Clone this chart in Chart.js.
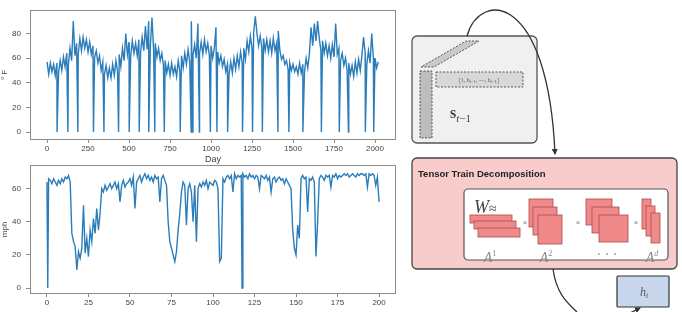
<!DOCTYPE html>
<html>
<head>
<meta charset="utf-8">
<script src="https://cdn.jsdelivr.net/npm/chart.js@4.4.1/dist/chart.umd.min.js"></script>
<style>
body { margin: 0; background: #fff; width: 682px; height: 312px; overflow: hidden; position: relative; }
#temp { position: absolute; left: 0; top: 0; }
#speed { position: absolute; left: 0; top: 155px; }
svg { position: absolute; left: 0; top: 0; }
</style>
</head>
<body>
<canvas id="temp" width="400" height="165"></canvas>
<canvas id="speed" width="400" height="157"></canvas>

<svg width="682" height="312" viewBox="0 0 682 312">
  <defs>
    <marker id="tip" markerWidth="6" markerHeight="6" refX="5" refY="3" orient="auto" markerUnits="userSpaceOnUse">
      <path d="M0,0 L6,3 L0,6 z" fill="#333"/>
    </marker>
  </defs>
  <!-- state box -->
  <rect x="412" y="36" width="125" height="107" rx="5" fill="#f0f0f0" stroke="#555" stroke-width="1.3"/>
  <polygon points="421,67 434,67 479,41 466,41" fill="#c9c9c9" stroke="#333" stroke-width="0.8" stroke-dasharray="2,1.5"/>
  <rect x="420" y="71" width="12" height="67" fill="#bdbdbd" stroke="#333" stroke-width="0.8" stroke-dasharray="2,1.5"/>
  <rect x="436" y="72" width="87" height="15" fill="#d8d8d8" stroke="#333" stroke-width="0.8" stroke-dasharray="2,1.5"/>
  <text x="479" y="82" font-family="Liberation Serif" font-size="6" fill="#666" text-anchor="middle">[1, h<tspan font-size="4.5" dy="1">t−1</tspan><tspan dy="-1">, ⋯, h</tspan><tspan font-size="4.5" dy="1">t−L</tspan><tspan dy="-1">]</tspan></text>
  <text x="450" y="118" font-family="Liberation Serif" font-weight="bold" font-size="16" fill="#444">s<tspan font-weight="normal" font-style="italic" font-size="11" dy="4">t</tspan><tspan font-weight="normal" font-size="11">−1</tspan></text>
  <path d="M467,36 C480,-10 548,-8 555,154" fill="none" stroke="#333" stroke-width="1.3" marker-end="url(#tip)"/>

  <!-- tensor train box -->
  <rect x="412" y="158" width="265" height="111" rx="5" fill="#f9cccc" stroke="#444" stroke-width="1.3"/>
  <text x="418" y="177" font-family="Liberation Sans" font-weight="bold" font-size="9.5" fill="#222">Tensor Train Decomposition</text>
  <rect x="464" y="189" width="204" height="71" rx="4" fill="#fff" stroke="#555" stroke-width="1.2"/>
  <text x="474" y="213" font-family="Liberation Serif" font-style="italic" font-size="18" fill="#444">W<tspan font-style="normal" font-size="14">≈</tspan></text>
  <g fill="#f08a8a" stroke="#b04848" stroke-width="0.8">
    <rect x="470" y="215" width="42" height="8"/>
    <rect x="474" y="221" width="42" height="8"/>
    <rect x="478" y="228" width="42" height="9"/>
    <rect x="529" y="199" width="24" height="28"/>
    <rect x="533" y="207" width="24" height="28"/>
    <rect x="538" y="215" width="24" height="29"/>
    <rect x="586" y="199" width="26" height="26"/>
    <rect x="592" y="207" width="27" height="26"/>
    <rect x="599" y="215" width="29" height="27"/>
    <rect x="642" y="199" width="9" height="30"/>
    <rect x="646" y="206" width="9" height="30"/>
    <rect x="651" y="213" width="9" height="30"/>
  </g>
  <g font-family="Liberation Sans" font-size="8" fill="#777" text-anchor="middle">
    <text x="525" y="225">×</text>
    <text x="578" y="225">×</text>
    <text x="636" y="225">×</text>
  </g>
  <g font-family="Liberation Serif" font-style="italic" font-size="14" fill="#888" text-anchor="middle">
    <text x="490" y="262">A<tspan font-size="8" dy="-6" font-style="normal">1</tspan></text>
    <text x="546" y="262">A<tspan font-size="8" dy="-6" font-style="normal">2</tspan></text>
    <text x="607" y="259" font-style="normal">· · ·</text>
    <text x="652" y="262">A<tspan font-size="8" dy="-6">d</tspan></text>
  </g>
  <path d="M553,269 C556,292 566,302 577,312" fill="none" stroke="#333" stroke-width="1.3"/>

  <!-- output box -->
  <rect x="617" y="276" width="52" height="31" rx="1" fill="#c9d7ec" stroke="#333" stroke-width="1.2"/>
  <text x="640" y="296" font-family="Liberation Serif" font-style="italic" font-size="12" fill="#556">h<tspan font-size="8" dy="2">t</tspan></text>
  <path d="M628,314 L640,308" fill="none" stroke="#333" stroke-width="1.3" marker-end="url(#tip)"/>
</svg>

<script>
// temperature, one reading every 10 days from day 0
var tempValues = [
  57, 47, 56, 49, 55, 46, 56, 48, 58, 50,
  61, 53, 64, 55, 68, 58, 90, 62, 72, 63,
  76, 66, 77, 68, 75, 65, 73, 63, 70, 61,
  66, 56, 62, 50, 57, 47, 54, 44, 52, 44,
  55, 46, 58, 49, 63, 53, 68, 58, 80, 63,
  73, 62, 74, 64, 72, 62, 75, 64, 77, 66,
  86, 67, 90, 70, 93, 66, 72, 61, 68, 58,
  64, 54, 58, 48, 55, 46, 56, 47, 53, 45,
  58, 49, 62, 52, 64, 55, 67, 57, 90, 62,
  71, 60, 88, 64, 73, 63, 75, 65, 72, 62,
  70, 60, 68, 85, 65, 56, 62, 53, 59, 49,
  55, 47, 57, 48, 60, 51, 62, 53, 65, 56,
  68, 59, 74, 65, 78, 68, 81, 94, 80, 70,
  78, 68, 76, 66, 75, 65, 74, 64, 76, 66,
  72, 82, 66, 59, 62, 55, 58, 51, 56, 50,
  55, 49, 53, 47, 56, 48, 55, 49, 60, 52,
  64, 85, 70, 88, 74, 90, 76, 66, 74, 64,
  72, 62, 70, 60, 71, 61, 88, 63, 68, 58,
  64, 54, 60, 50, 56, 47, 54, 45, 57, 48,
  59, 50, 62, 77, 64, 55, 66, 56, 80, 60,
  60, 52, 57
];
// days where the sensor reads zero
var tempDropDays = [61, 127, 188, 283, 347, 436, 501, 562, 620, 657, 715, 812, 879, 889, 929,
  996, 1036, 1101, 1192, 1253, 1313, 1408, 1475, 1560, 1673, 1782, 1838, 1941, 1992];
var tempDropValues = [0, 0, 0, 0, 0, 0, 0, 0, 0, 0, 0, 0, 0, 0, 0,
  0, 0, 0, 0, 0, 0, 0, 0, 0, 0, 0, 0, 0, 0];
var tempXTicks = [0, 250, 500, 750, 1000, 1250, 1500, 1750, 2000];
var tempYTicks = [0, 20, 40, 60, 80];

// speed, one reading per day from day 0
var speedValues = [
  64, 66, 65, 63, 66, 64, 62, 65, 63, 66,
  64, 67, 66, 68, 64, 33, 28, 25, 11, 22,
  18, 24, 50, 21, 30, 19, 35, 28, 42, 33,
  48, 35, 45, 60, 58, 62, 59, 61, 63, 60,
  62, 64, 60, 63, 52, 62, 65, 61, 63, 64,
  66, 62, 67, 48, 64, 66, 68, 64, 67, 69,
  66, 68, 65, 67, 64, 68, 66, 67, 52, 66,
  68, 65, 62, 40, 28, 24, 20, 16, 22, 35,
  45, 58, 64, 62, 38, 60, 63, 58, 40, 62,
  28, 60, 63, 61, 64, 62, 65, 60, 64, 63,
  62, 65, 64, 60, 16, 18, 66, 64, 67, 68,
  66, 68, 58, 69, 66, 68, 67, 68, 69, 67,
  68, 66, 69, 67, 68, 66, 68, 67, 60, 68,
  67, 66, 68, 65, 67, 58, 66, 67, 64, 66,
  67, 65, 66, 63, 66, 64, 62, 60, 35, 24,
  20, 38, 30, 66, 68, 66, 67, 46, 66, 65,
  67, 64, 19, 40, 66, 68, 67, 65, 68, 67,
  68, 61, 68, 67, 69, 66, 68, 67, 68, 69,
  68, 69, 67, 68, 69, 68, 67, 69, 68, 69,
  69, 68, 69, 61, 69, 68, 69, 68, 62, 67,
  52
];
var speedDropDays = [0.5, 117.5];
var speedDropValues = [0, 0];
var speedXTicks = [0, 25, 50, 75, 100, 125, 150, 175, 200];
var speedYTicks = [0, 20, 40, 60];

function buildPoints(step, values, dropDays, dropValues) {
  var pts = values.map(function (v, i) { return { x: i * step, y: v }; });
  dropDays.forEach(function (d, i) { pts.push({ x: d, y: dropValues[i] }); });
  pts.sort(function (a, b) { return a.x - b.x; });
  return pts;
}

var frame = {
  id: 'frame',
  afterDatasetsDraw: function (chart) {
    var a = chart.chartArea, c = chart.ctx;
    c.save();
    c.strokeStyle = '#8c8c8c';
    c.lineWidth = 1;
    c.strokeRect(Math.round(a.left) + 0.5, Math.round(a.top) + 0.5,
      Math.round(a.right - a.left) - 1, Math.round(a.bottom - a.top) - 1);
    c.restore();
  }
};

var tickFont = { family: 'Liberation Sans', size: 8 };
var tickColor = '#444';

function makeChart(id, points, xr, yr, xTicks, yTicks, xTitle, yTitle, pad, xHeight) {
  return new Chart(document.getElementById(id).getContext('2d'), {
    type: 'line',
    data: {
      datasets: [{
        data: points,
        borderColor: '#2a7dba',
        borderWidth: 1.4,
        pointRadius: 0,
        tension: 0,
        fill: false
      }]
    },
    options: {
      responsive: false,
      animation: false,
      layout: { padding: pad },
      plugins: { legend: { display: false }, tooltip: { enabled: false } },
      scales: {
        x: {
          type: 'linear', min: xr[0], max: xr[1],
          afterBuildTicks: function (s) { s.ticks = xTicks.map(function (v) { return { value: v }; }); },
          afterFit: function (s) { s.height = xHeight; },
          grid: { drawOnChartArea: false, drawTicks: true, tickLength: 3, color: '#8c8c8c' },
          border: { display: false },
          ticks: { font: tickFont, color: tickColor, padding: 1, maxRotation: 0, autoSkip: false,
            callback: function (v) { return String(v); } },
          title: { display: !!xTitle, text: xTitle, font: { family: 'Liberation Sans', size: 9 }, color: '#444', padding: 0 }
        },
        y: {
          min: yr[0], max: yr[1],
          afterBuildTicks: function (s) { s.ticks = yTicks.map(function (v) { return { value: v }; }); },
          afterFit: function (s) { s.width = 30; },
          grid: { drawOnChartArea: false, drawTicks: true, tickLength: 4, color: '#8c8c8c' },
          border: { display: false },
          ticks: { font: tickFont, color: tickColor, padding: 5,
            callback: function (v) { return String(v); } },
          title: { display: true, text: yTitle, font: { family: 'Liberation Sans', size: 8 }, color: '#444', padding: 0 }
        }
      }
    },
    plugins: [frame]
  });
}

makeChart('temp', buildPoints(10, tempValues, tempDropDays, tempDropValues),
  [-104, 2128], [-6.4, 99.2], tempXTicks, tempYTicks, 'Day', '° F',
  { top: 8, right: 4, left: 0, bottom: 0 }, 25);

makeChart('speed', buildPoints(1, speedValues, speedDropDays, speedDropValues),
  [-10.2, 210.2], [-3.6, 74.4], speedXTicks, speedYTicks, '', 'mph',
  { top: 9, right: 4, left: 0, bottom: 0 }, 18);
</script>
</body>
</html>
